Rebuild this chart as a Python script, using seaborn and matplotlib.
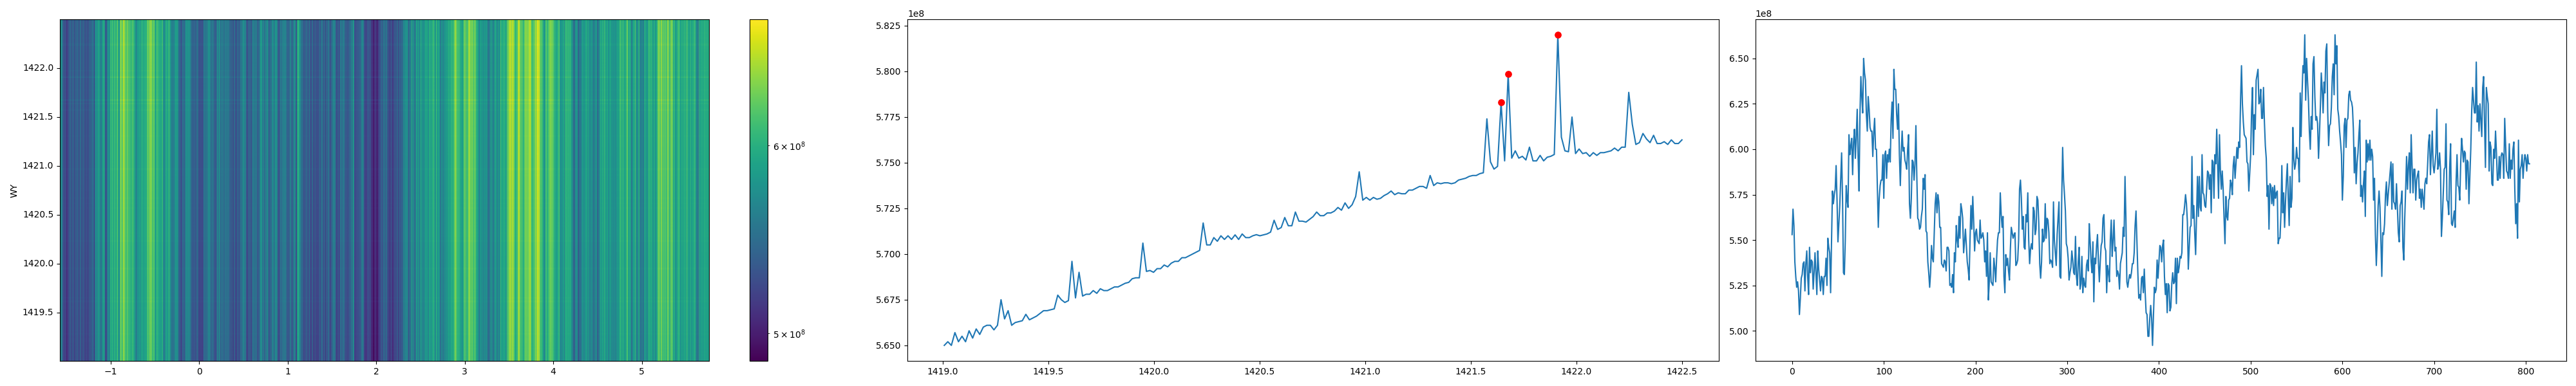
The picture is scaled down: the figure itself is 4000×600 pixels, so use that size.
# Heatmap of the flux with its row and column profiles
import matplotlib
matplotlib.use("Agg")
import matplotlib.pyplot as plt
from matplotlib.colors import LogNorm
import numpy as np
import seaborn as sns

# mean per row, in 1e6
row_profile = [
    565.0, 565.2, 565.0, 565.7, 565.2, 565.5, 565.2, 565.8, 565.4, 565.9, 565.6, 566.0, 566.1, 566.1, 565.85, 566.1,
    567.5, 566.45, 566.9, 566.1, 566.25, 566.3, 566.35, 566.7, 566.4, 566.5, 566.6, 566.75, 566.9, 566.9, 566.95, 567.0,
    567.75, 567.5, 567.35, 567.45, 569.6, 567.6, 569.0, 567.7, 567.8, 567.8, 568.0, 567.85, 568.1, 568.0, 568.0, 568.1,
    568.2, 568.2, 568.3, 568.4, 568.45, 568.65, 568.7, 568.7, 570.6, 569.05, 569.1, 569.0, 569.2, 569.2, 569.4, 569.3,
    569.5, 569.6, 569.6, 569.8, 569.8, 569.9, 570.0, 570.1, 570.2, 571.7, 570.5, 570.5, 570.9, 570.7, 571.0, 570.8,
    571.0, 570.8, 571.05, 570.8, 571.1, 570.9, 570.9, 571.0, 571.06, 571.0, 571.05, 571.1, 571.2, 571.85, 571.35, 571.45,
    572.0, 571.55, 571.55, 572.3, 571.8, 571.8, 571.75, 571.9, 572.05, 572.3, 572.1, 572.1, 572.25, 572.25, 572.35, 572.55,
    572.4, 572.8, 572.5, 572.7, 573.15, 574.5, 572.95, 573.1, 572.95, 573.1, 573.0, 573.05, 573.2, 573.3, 573.45, 573.25,
    573.35, 573.3, 573.3, 573.5, 573.5, 573.6, 573.7, 573.7, 573.6, 574.3, 573.75, 573.9, 573.85, 573.9, 573.9, 573.85,
    573.9, 574.05, 574.1, 574.15, 574.25, 574.3, 574.3, 574.4, 574.45, 577.4, 575.05, 574.65, 574.8, 578.3, 575.1, 579.85,
    575.25, 575.65, 575.25, 575.35, 575.15, 575.85, 575.1, 575.1, 575.4, 575.1, 575.3, 575.35, 575.45, 582.0, 576.4, 575.65,
    575.6, 577.5, 575.5, 575.75, 575.5, 575.55, 575.35, 575.55, 575.4, 575.55, 575.55, 575.6, 575.65, 575.8, 575.65, 575.85,
    575.85, 578.85, 577.1, 576.0, 576.1, 576.6, 576.3, 576.1, 576.5, 576.05, 576.05, 576.15, 576.0, 576.25, 576.05, 576.05,
    576.25,
]

# mean per column, in 1e6
col_profile = [
    553, 567, 558, 538, 530, 524, 527, 522, 509, 518, 529, 531, 537, 538, 522, 537, 544, 530, 520, 546,
    532, 539, 538, 523, 532, 543, 532, 520, 544, 534, 528, 522, 530, 529, 520, 530, 530, 540, 525, 551,
    546, 543, 521, 550, 577, 570, 575, 578, 591, 572, 549, 559, 569, 584, 598, 573, 532, 531, 550, 580,
    572, 568, 608, 597, 602, 606, 586, 604, 611, 595, 607, 622, 596, 577, 619, 640, 629, 620, 650, 642,
    638, 619, 610, 629, 622, 612, 610, 610, 596, 609, 617, 600, 600, 579, 557, 573, 580, 583, 583, 597,
    573, 597, 599, 584, 597, 593, 600, 593, 616, 626, 606, 644, 633, 633, 619, 611, 625, 597, 580, 598,
    610, 599, 601, 594, 592, 589, 600, 608, 570, 562, 573, 594, 593, 583, 592, 613, 585, 562, 561, 556,
    557, 563, 567, 584, 578, 586, 555, 554, 538, 532, 524, 532, 547, 540, 538, 554, 570, 576, 565, 575,
    571, 557, 557, 537, 536, 535, 539, 538, 533, 546, 546, 544, 525, 526, 524, 531, 521, 543, 538, 558,
    550, 546, 563, 551, 570, 567, 562, 543, 549, 556, 547, 538, 534, 528, 550, 569, 556, 574, 560, 544,
    554, 556, 550, 549, 548, 561, 551, 552, 554, 550, 538, 544, 530, 554, 517, 527, 543, 527, 526, 525,
    540, 535, 527, 540, 550, 554, 554, 576, 564, 557, 563, 530, 521, 542, 536, 540, 533, 528, 545, 557,
    554, 551, 553, 554, 536, 537, 539, 550, 578, 583, 573, 556, 563, 546, 545, 564, 560, 576, 550, 537,
    545, 548, 545, 568, 566, 553, 556, 574, 572, 559, 537, 529, 538, 556, 549, 550, 570, 551, 562, 561,
    554, 537, 539, 538, 535, 571, 550, 543, 536, 553, 562, 571, 530, 529, 573, 601, 583, 575, 566, 548,
    546, 540, 528, 532, 535, 544, 539, 532, 531, 552, 530, 525, 538, 546, 523, 526, 541, 521, 529, 525,
    524, 536, 539, 533, 559, 549, 538, 532, 549, 516, 540, 537, 547, 553, 538, 527, 538, 547, 549, 562,
    564, 546, 544, 521, 536, 532, 527, 550, 561, 541, 550, 561, 544, 546, 530, 533, 531, 523, 537, 540,
    543, 557, 552, 585, 562, 527, 524, 528, 531, 529, 532, 537, 537, 543, 558, 566, 549, 532, 518, 520,
    517, 529, 530, 521, 534, 521, 510, 509, 497, 497, 507, 514, 507, 492, 508, 524, 521, 523, 539, 529,
    538, 547, 546, 538, 547, 550, 530, 520, 526, 510, 526, 525, 511, 513, 526, 532, 526, 527, 540, 515,
    540, 532, 535, 541, 540, 543, 564, 564, 569, 575, 570, 560, 534, 546, 557, 558, 596, 562, 569, 554,
    542, 564, 585, 563, 585, 568, 566, 597, 576, 575, 569, 568, 578, 588, 587, 578, 586, 565, 594, 593,
    573, 597, 592, 611, 592, 573, 608, 588, 578, 588, 578, 562, 548, 574, 563, 561, 572, 573, 583, 581,
    575, 591, 596, 584, 592, 601, 595, 604, 601, 627, 646, 625, 615, 608, 607, 606, 593, 592, 577, 587,
    597, 621, 634, 597, 619, 611, 638, 641, 644, 625, 626, 633, 617, 617, 634, 615, 602, 595, 574, 580,
    556, 581, 580, 570, 579, 569, 580, 573, 576, 577, 548, 551, 551, 564, 591, 565, 576, 557, 571, 583,
    592, 573, 558, 585, 568, 573, 612, 595, 589, 592, 601, 595, 595, 582, 631, 607, 630, 646, 642, 663,
    627, 650, 638, 627, 610, 600, 618, 611, 647, 651, 629, 616, 618, 614, 595, 608, 623, 642, 633, 620,
    637, 631, 654, 658, 621, 602, 613, 614, 623, 640, 647, 630, 663, 647, 657, 622, 618, 610, 604, 597,
    572, 585, 613, 617, 601, 616, 617, 630, 632, 627, 626, 623, 611, 587, 601, 581, 592, 598, 608, 616,
    574, 580, 571, 581, 588, 563, 605, 593, 603, 594, 605, 594, 600, 596, 572, 584, 553, 536, 550, 569,
    577, 568, 550, 530, 554, 553, 559, 575, 582, 569, 575, 581, 587, 593, 567, 592, 571, 570, 567, 581,
    568, 554, 549, 569, 571, 577, 546, 539, 562, 578, 596, 578, 591, 598, 576, 608, 591, 576, 589, 589,
    572, 583, 586, 588, 573, 578, 568, 578, 573, 567, 581, 584, 581, 592, 604, 608, 586, 597, 610, 591,
    587, 592, 598, 622, 589, 591, 598, 589, 552, 562, 575, 589, 590, 614, 572, 571, 564, 590, 603, 559,
    558, 562, 566, 557, 582, 597, 580, 579, 572, 592, 606, 600, 593, 599, 598, 578, 594, 593, 570, 585,
    600, 621, 634, 627, 620, 620, 648, 615, 624, 610, 625, 616, 607, 634, 640, 615, 590, 634, 629, 625,
    588, 604, 601, 581, 580, 600, 595, 610, 598, 583, 583, 596, 584, 596, 598, 597, 584, 617, 602, 588,
    587, 584, 603, 584, 594, 589, 600, 604, 578, 559, 570, 551, 605, 571, 589, 591, 597, 584, 592, 597,
    595, 588, 597, 592, 592,
]

row_ticks = [1419.5, 1420.0, 1420.5, 1421.0, 1421.5, 1422.0]
col_ticks = [-1, 0, 1, 2, 3, 4, 5]
peak_rows = [157, 159, 173]

row_start, row_end = 1419.008, 1422.5
col_start, col_end = -1.573, 5.76
color_min, color_max = 4.868e8, 6.78e8

row_values = np.array(row_profile) * 1e6
col_values = np.array(col_profile) * 1e6
row_pos = np.linspace(row_start, row_end, len(row_values))
col_idx = np.arange(len(col_values))

# the image is the two profiles multiplied together
heat = np.outer(row_values, col_values) / row_values.mean()

W, H = 4000, 600


def place(left, right, top=30, bottom=561):
    return [left / W, 1 - bottom / H, (right - left) / W, (bottom - top) / H]


fig = plt.figure(figsize=(40, 6), dpi=100)
ax1 = fig.add_axes(place(93, 1101))
cax = fig.add_axes(place(1164, 1192))
ax2 = fig.add_axes(place(1409, 2669))
ax3 = fig.add_axes(place(2725.5, 3985))

sns.heatmap(heat, ax=ax1, cbar_ax=cax, cmap="viridis", norm=LogNorm(vmin=color_min, vmax=color_max), rasterized=True)
ax1.set_ylim(0, heat.shape[0])
for s in ax1.spines.values():
    s.set_visible(True)
xpos = [(t - col_start) / (col_end - col_start) * heat.shape[1] for t in col_ticks]
ypos = [(t - row_start) / (row_end - row_start) * heat.shape[0] for t in row_ticks]
ax1.set_xticks(xpos, [str(t).replace("-", "\u2212") for t in col_ticks], rotation=0)
ax1.set_yticks(ypos, [str(t) for t in row_ticks], rotation=0)
ax1.set_ylabel("WY")
cb = ax1.collections[0].colorbar
cb.outline.set_visible(True)
cb.outline.set_linewidth(0.8)

sns.lineplot(x=row_pos, y=row_values, ax=ax2)
sns.scatterplot(x=row_pos[peak_rows], y=row_values[peak_rows], ax=ax2, color="red", s=45, edgecolor="red", linewidth=1, zorder=3)

sns.lineplot(x=col_idx, y=col_values, ax=ax3)

plt.savefig("out.png", dpi=100)
